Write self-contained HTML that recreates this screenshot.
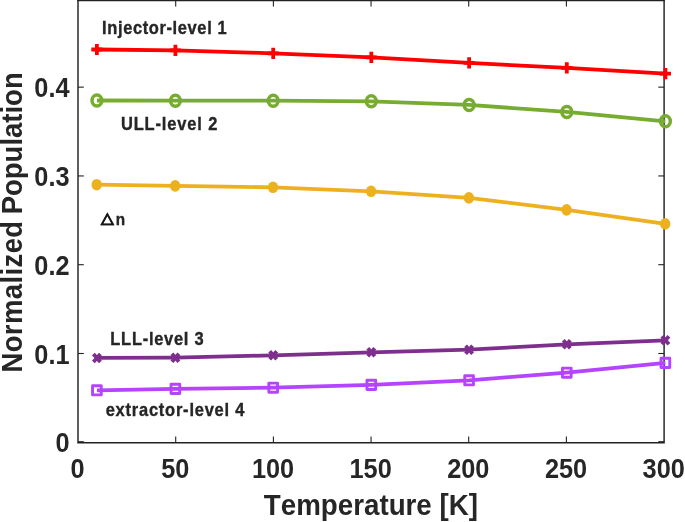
<!DOCTYPE html>
<html><head><meta charset="utf-8"><title>Normalized Population vs Temperature</title>
<style>html,body{margin:0;padding:0;background:#fff;}svg{display:block;filter:blur(0.55px);}text{font-family:"Liberation Sans",Arial,Helvetica,sans-serif;font-weight:bold;fill:#262626;font-kerning:none;}</style></head><body>
<svg width="685" height="522" viewBox="0 0 685 522">
<rect x="0" y="0" width="685" height="522" fill="#ffffff"/>
<g stroke="#222222" stroke-width="1.45" fill="none">
<line x1="78.0" y1="0" x2="78.0" y2="442.3"/>
<line x1="664.1" y1="0" x2="664.1" y2="442.3"/>
<line x1="77.275" y1="442.7" x2="664.825" y2="442.7"/>
<line x1="77.275" y1="0.3" x2="664.825" y2="0.3" stroke-width="2"/>
</g>
<g stroke="#222222" stroke-width="1.1" fill="none">
<line x1="175.7" y1="442.3" x2="175.7" y2="436.5"/>
<line x1="175.7" y1="0" x2="175.7" y2="6.3999999999999995"/>
<line x1="273.4" y1="442.3" x2="273.4" y2="436.5"/>
<line x1="273.4" y1="0" x2="273.4" y2="6.3999999999999995"/>
<line x1="371.05" y1="442.3" x2="371.05" y2="436.5"/>
<line x1="371.05" y1="0" x2="371.05" y2="6.3999999999999995"/>
<line x1="468.7" y1="442.3" x2="468.7" y2="436.5"/>
<line x1="468.7" y1="0" x2="468.7" y2="6.3999999999999995"/>
<line x1="566.4" y1="442.3" x2="566.4" y2="436.5"/>
<line x1="566.4" y1="0" x2="566.4" y2="6.3999999999999995"/>
<line x1="78.0" y1="353.5" x2="83.8" y2="353.5"/>
<line x1="664.1" y1="353.5" x2="658.3000000000001" y2="353.5"/>
<line x1="78.0" y1="264.7" x2="83.8" y2="264.7"/>
<line x1="664.1" y1="264.7" x2="658.3000000000001" y2="264.7"/>
<line x1="78.0" y1="175.95" x2="83.8" y2="175.95"/>
<line x1="664.1" y1="175.95" x2="658.3000000000001" y2="175.95"/>
<line x1="78.0" y1="87.15" x2="83.8" y2="87.15"/>
<line x1="664.1" y1="87.15" x2="658.3000000000001" y2="87.15"/>
<line x1="78.0" y1="441.7" x2="83.8" y2="441.7"/>
<line x1="664.1" y1="441.7" x2="658.3000000000001" y2="441.7"/>
</g>
<g font-size="26.8" text-anchor="middle">
<text transform="translate(77.60,477.8) scale(0.945,1)">0</text>
<text transform="translate(175.30,477.8) scale(0.945,1)">50</text>
<text transform="translate(273.00,477.8) scale(0.945,1)">100</text>
<text transform="translate(370.65,477.8) scale(0.945,1)">150</text>
<text transform="translate(468.30,477.8) scale(0.945,1)">200</text>
<text transform="translate(566.00,477.8) scale(0.945,1)">250</text>
<text transform="translate(663.70,477.8) scale(0.945,1)">300</text>
</g>
<g font-size="26.8" text-anchor="end">
<text transform="translate(69.5,452.40) scale(0.945,1)">0</text>
<text transform="translate(69.5,363.60) scale(0.945,1)">0.1</text>
<text transform="translate(69.5,274.80) scale(0.945,1)">0.2</text>
<text transform="translate(69.5,186.05) scale(0.945,1)">0.3</text>
<text transform="translate(69.5,97.25) scale(0.945,1)">0.4</text>
</g>
<text transform="translate(370.9,514.8) scale(0.96,1)" font-size="28.9" text-anchor="middle">Temperature [K]</text>
<text transform="translate(22.1,372.55) rotate(-90) scale(0.935,1)" font-size="29.4" textLength="162.19" lengthAdjust="spacing">Normalized</text>
<text transform="translate(22.1,214.30) rotate(-90) scale(0.935,1)" font-size="29.4" textLength="151.87" lengthAdjust="spacing">Population</text>
<g stroke="#ff0000" stroke-width="3.8" fill="none" stroke-linejoin="round">
<polyline points="96.9,49.50 175.4,50.30 273.2,53.30 371.3,57.30 469.1,62.90 566.8,67.90 665.4,73.70"/>
<path d="M91.30000000000001 49.5H102.5M96.9 43.9V55.1"/>
<path d="M169.8 50.3H181.0M175.4 44.699999999999996V55.9"/>
<path d="M267.59999999999997 53.3H278.8M273.2 47.699999999999996V58.9"/>
<path d="M365.7 57.3H376.90000000000003M371.3 51.699999999999996V62.9"/>
<path d="M463.5 62.9H474.70000000000005M469.1 57.3V68.5"/>
<path d="M561.1999999999999 67.89999999999999H572.4M566.8 62.29999999999999V73.49999999999999"/>
<path d="M659.8 73.7H671.0M665.4 68.10000000000001V79.3"/>
</g>
<g stroke="#77ac30" stroke-width="3.8" fill="none" stroke-linejoin="round">
<polyline points="96.9,100.50 175.4,100.70 273.2,100.70 371.3,101.30 469.1,104.90 566.8,111.90 665.4,121.30"/>
<ellipse cx="96.9" cy="100.5" rx="4.9" ry="5.5" stroke-width="3.5"/>
<ellipse cx="175.4" cy="100.7" rx="4.9" ry="5.5" stroke-width="3.5"/>
<ellipse cx="273.2" cy="100.7" rx="4.9" ry="5.5" stroke-width="3.5"/>
<ellipse cx="371.3" cy="101.3" rx="4.9" ry="5.5" stroke-width="3.5"/>
<ellipse cx="469.1" cy="104.89999999999999" rx="4.9" ry="5.5" stroke-width="3.5"/>
<ellipse cx="566.8" cy="111.89999999999999" rx="4.9" ry="5.5" stroke-width="3.5"/>
<ellipse cx="665.4" cy="121.3" rx="4.9" ry="5.5" stroke-width="3.5"/>
</g>
<g stroke="#edb120" stroke-width="3.8" fill="none" stroke-linejoin="round">
<polyline points="96.9,184.70 175.4,185.90 273.2,187.30 371.3,191.30 469.1,197.90 566.8,209.90 665.4,223.90"/>
<ellipse cx="96.7" cy="184.70000000000002" rx="5.2" ry="5.8" fill="#edb120" stroke="none"/>
<ellipse cx="175.20000000000002" cy="185.9" rx="5.2" ry="5.8" fill="#edb120" stroke="none"/>
<ellipse cx="273.0" cy="187.3" rx="5.2" ry="5.8" fill="#edb120" stroke="none"/>
<ellipse cx="371.1" cy="191.3" rx="5.2" ry="5.8" fill="#edb120" stroke="none"/>
<ellipse cx="468.90000000000003" cy="197.9" rx="5.2" ry="5.8" fill="#edb120" stroke="none"/>
<ellipse cx="566.5999999999999" cy="209.9" rx="5.2" ry="5.8" fill="#edb120" stroke="none"/>
<ellipse cx="665.1999999999999" cy="223.9" rx="5.2" ry="5.8" fill="#edb120" stroke="none"/>
</g>
<g stroke="#7e2f8e" stroke-width="3.8" fill="none" stroke-linejoin="round">
<polyline points="96.9,357.90 175.4,357.70 273.2,355.30 371.3,352.30 469.1,349.70 566.8,344.30 665.4,340.30"/>
<path d="M93.40 353.90L100.40 361.90M93.40 361.90L100.40 353.90"/>
<path d="M171.90 353.70L178.90 361.70M171.90 361.70L178.90 353.70"/>
<path d="M269.70 351.30L276.70 359.30M269.70 359.30L276.70 351.30"/>
<path d="M367.80 348.30L374.80 356.30M367.80 356.30L374.80 348.30"/>
<path d="M465.60 345.70L472.60 353.70M465.60 353.70L472.60 345.70"/>
<path d="M563.30 340.30L570.30 348.30M563.30 348.30L570.30 340.30"/>
<path d="M661.90 336.30L668.90 344.30M661.90 344.30L668.90 336.30"/>
</g>
<g stroke="#b444ff" stroke-width="3.8" fill="none" stroke-linejoin="round">
<polyline points="96.9,390.30 175.4,388.90 273.2,387.70 371.3,384.90 469.1,380.30 566.8,372.70 665.4,362.90"/>
<rect x="92.55" y="385.70" width="8.70" height="9.20" stroke-width="2.9"/>
<rect x="171.05" y="384.30" width="8.70" height="9.20" stroke-width="2.9"/>
<rect x="268.85" y="383.10" width="8.70" height="9.20" stroke-width="2.9"/>
<rect x="366.95" y="380.30" width="8.70" height="9.20" stroke-width="2.9"/>
<rect x="464.75" y="375.70" width="8.70" height="9.20" stroke-width="2.9"/>
<rect x="562.45" y="368.10" width="8.70" height="9.20" stroke-width="2.9"/>
<rect x="661.05" y="358.30" width="8.70" height="9.20" stroke-width="2.9"/>
</g>
<g font-size="18.1" stroke="#222" stroke-width="0.35" fill="#222">
<text transform="translate(102.10,33.7) scale(0.91,1)" textLength="136.92" lengthAdjust="spacing">Injector-level 1</text>
<text transform="translate(120.90,129.5) scale(0.91,1)" textLength="105.93" lengthAdjust="spacing">ULL-level 2</text>
<text transform="translate(110.30,344.5) scale(0.91,1)" textLength="102.53" lengthAdjust="spacing">LLL-level 3</text>
<text transform="translate(105.70,416.0) scale(0.91,1)" textLength="152.42" lengthAdjust="spacing">extractor-level 4</text>
<text transform="translate(101.1,223.2) scale(1.1,1)" font-weight="normal" font-family="'DejaVu Sans',sans-serif" font-size="15" stroke="#151515" stroke-width="0.4">△</text>
<text transform="translate(115.8,225.3) scale(0.9,1)" font-size="17">n</text>
</g>
</svg></body></html>
